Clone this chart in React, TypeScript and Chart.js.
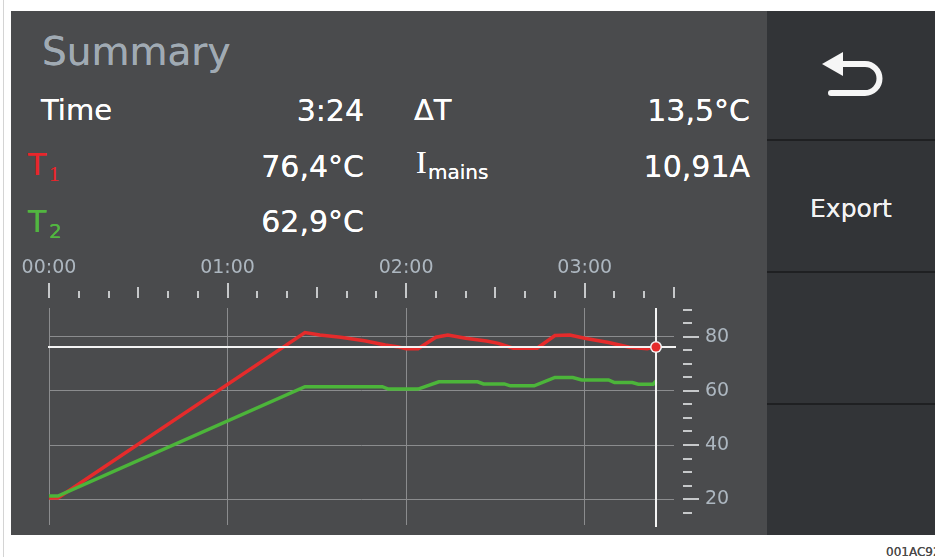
import React, { useEffect, useRef } from "react";
import { Chart, registerables } from "chart.js";

Chart.register(...registerables);

// ---- data ----
const T1_TIMES = [0, 3, 86, 91, 98, 106, 113, 117, 120, 124, 130, 134, 140, 147, 151, 156, 164, 170, 175, 180, 188, 195, 201, 204];
const T1_VALUES = [20.4, 20.4, 81.6, 80.7, 79.9, 78.6, 77.0, 76.4, 75.6, 75.6, 79.9, 80.7, 79.5, 78.5, 77.6, 75.8, 75.8, 80.5, 80.7, 79.5, 77.9, 76.2, 75.6, 76.4];
const T2_TIMES = [0, 3, 86, 112, 114, 124, 131, 144, 146, 153, 155, 163, 170, 176, 179, 188, 190, 196, 198, 203, 204];
const T2_VALUES = [21.1, 21.1, 61.6, 61.6, 60.7, 60.7, 63.4, 63.4, 62.6, 62.6, 61.9, 61.9, 65.0, 65.0, 64.1, 64.1, 63.1, 63.1, 62.5, 62.5, 63.7];

const CURRENT_TIME = 204;
const CURRENT_T1 = 76.4;

const X_MIN = 0;
const X_MAX = 210;
const Y_MIN = 10.4;
const Y_MAX = 90.7;

const X_LABEL_TICKS = [0, 60, 120, 180];
const X_LABELS = ["00:00", "01:00", "02:00", "03:00"];
const X_MARK_TICKS = [0, 10, 20, 30, 40, 50, 60, 70, 80, 90, 100, 110, 120, 130, 140, 150, 160, 170, 180, 190, 200, 210];
const Y_LABEL_TICKS = [20, 40, 60, 80];
const Y_MARK_TICKS = [15, 20, 25, 30, 35, 40, 45, 50, 55, 60, 65, 70, 75, 80, 85, 90];

const FONT = "'DejaVu Sans', Verdana, sans-serif";
const SERIF = "'Liberation Serif', 'DejaVu Serif', serif";

const toPoints = (xs: number[], ys: number[]) => xs.map((x, i) => ({ x, y: ys[i] }));

const overlayPlugin = {
  id: "overlay",
  afterDatasetsDraw(chart: any) {
    const { ctx, chartArea, scales } = chart;
    const x = scales.x;
    const y = scales.y;
    ctx.save();
    // tick marks on the time axis
    ctx.strokeStyle = "#c6c8ca";
    ctx.lineWidth = 2;
    X_MARK_TICKS.forEach((v) => {
      const px = Math.round(x.getPixelForValue(v));
      const len = v % 60 === 0 ? 15 : v % 30 === 0 ? 11 : 7;
      const bottom = chartArea.top - 10;
      ctx.beginPath();
      ctx.moveTo(px, bottom - len);
      ctx.lineTo(px, bottom);
      ctx.stroke();
    });
    // tick marks on the temperature axis
    Y_MARK_TICKS.forEach((v) => {
      const py = Math.round(y.getPixelForValue(v));
      const left = chartArea.right + 9;
      const len = v % 20 === 0 ? 16 : 9;
      ctx.beginPath();
      ctx.moveTo(left, py);
      ctx.lineTo(left + len, py);
      ctx.stroke();
    });
    // cursor lines
    const cx = Math.round(x.getPixelForValue(CURRENT_TIME));
    const cy = Math.round(y.getPixelForValue(CURRENT_T1));
    ctx.strokeStyle = "#f4f4f4";
    ctx.lineWidth = 2;
    ctx.beginPath();
    ctx.moveTo(chartArea.left - 1, cy);
    ctx.lineTo(chartArea.right + 2, cy);
    ctx.stroke();
    ctx.beginPath();
    ctx.moveTo(cx, chartArea.top);
    ctx.lineTo(cx, chartArea.bottom + 2);
    ctx.stroke();
    // current point marker
    ctx.beginPath();
    ctx.arc(cx, cy, 6, 0, Math.PI * 2);
    ctx.fillStyle = "#f4f4f4";
    ctx.fill();
    ctx.beginPath();
    ctx.arc(cx, cy, 4.5, 0, Math.PI * 2);
    ctx.fillStyle = "#e52b2b";
    ctx.fill();
    ctx.restore();
  },
};

function TempChart() {
  const ref = useRef<HTMLCanvasElement | null>(null);
  useEffect(() => {
    if (!ref.current) return;
    const chart = new Chart(ref.current, {
      type: "line",
      data: {
        datasets: [
          {
            label: "T2",
            data: toPoints(T2_TIMES, T2_VALUES),
            borderColor: "#4cb53a",
            borderWidth: 3.5,
            pointRadius: 0,
            tension: 0,
          },
          {
            label: "T1",
            data: toPoints(T1_TIMES, T1_VALUES),
            borderColor: "#e52b2b",
            borderWidth: 3.5,
            pointRadius: 0,
            tension: 0,
          },
        ],
      },
      options: {
        animation: false,
        responsive: false,
        maintainAspectRatio: false,
        events: [],
        layout: { padding: { left: 38, right: 0, top: 0, bottom: 10 } },
        plugins: { legend: { display: false }, tooltip: { enabled: false } },
        scales: {
          x: {
            type: "linear",
            position: "top",
            min: X_MIN,
            max: X_MAX,
            afterBuildTicks: (s: any) => {
              s.ticks = X_LABEL_TICKS.map((v) => ({ value: v }));
            },
            afterFit: (s: any) => {
              s.height = 53;
              s.paddingLeft = 0;
              s.paddingRight = 0;
              s.paddingTop = 0;
              s.paddingBottom = 0;
            },
            grid: { color: "#8b8c8e", lineWidth: 1, drawTicks: false },
            border: { display: false },
            ticks: {
              autoSkip: false,
              maxRotation: 0,
              padding: 29,
              color: "#adb7c0",
              font: { family: FONT, size: 19 },
              callback: (_v: any, i: number) => X_LABELS[i],
            },
          },
          y: {
            type: "linear",
            position: "right",
            min: Y_MIN,
            max: Y_MAX,
            afterBuildTicks: (s: any) => {
              s.ticks = Y_LABEL_TICKS.map((v) => ({ value: v }));
            },
            afterFit: (s: any) => {
              s.width = 93;
              s.paddingLeft = 0;
              s.paddingRight = 0;
              s.paddingTop = 0;
              s.paddingBottom = 0;
            },
            grid: { color: "#8b8c8e", lineWidth: 1, drawTicks: false },
            border: { display: false },
            ticks: {
              autoSkip: false,
              padding: 31,
              color: "#adb7c0",
              font: { family: FONT, size: 19 },
              callback: (v: any) => String(v),
            },
          },
        },
      },
      plugins: [overlayPlugin],
    } as any);
    return () => chart.destroy();
  }, []);
  return (
    <canvas
      ref={ref}
      width={756}
      height={280}
      style={{ position: "absolute", left: 11, top: 255, width: 756, height: 280 }}
    />
  );
}

// place text by baseline (DejaVu Sans: baseline at 0.846em with line-height 1)
function Txt(props: {
  x?: number;
  right?: number;
  baseline: number;
  size: number;
  color: string;
  family?: string;
  ratio?: number;
  children: React.ReactNode;
}) {
  const ratio = props.ratio ?? 0.846;
  const style: React.CSSProperties = {
    position: "absolute",
    top: props.baseline - ratio * props.size,
    fontSize: props.size,
    lineHeight: `${props.size}px`,
    fontFamily: props.family ?? FONT,
    color: props.color,
    whiteSpace: "nowrap",
    textShadow: `0 0 0.6px ${props.color}`,
  };
  if (props.right !== undefined) style.right = 935 - props.right;
  else style.left = props.x;
  return <div style={style}>{props.children}</div>;
}

export default function App() {
  const sep = (top: number) => (
    <div style={{ position: "absolute", left: 767, top, width: 168, height: 2, background: "#1f2022" }} />
  );
  return (
    <div
      style={{
        position: "absolute",
        left: 0,
        top: 0,
        width: 935,
        height: 557,
        background: "#ffffff",
        overflow: "hidden",
        fontFamily: FONT,
      }}
    >
      <div style={{ position: "absolute", left: 3, top: 0, width: 1, height: 557, background: "#d4d4d4" }} />
      <div style={{ position: "absolute", left: 11, top: 11, width: 756, height: 524, background: "#4a4b4d" }} />
      <div style={{ position: "absolute", left: 767, top: 11, width: 168, height: 524, background: "#323437" }} />
      {sep(139)}
      {sep(271)}
      {sep(403)}

      <Txt x={42} baseline={65} size={39} color="#a0aab3">Summary</Txt>

      <Txt x={41} baseline={121} size={29} color="#ffffff">Time</Txt>
      <Txt right={364} baseline={121} size={30} color="#ffffff">3:24</Txt>
      <Txt x={414} baseline={121} size={29} color="#ffffff">ΔT</Txt>
      <Txt right={750} baseline={121} size={30} color="#ffffff">13,5°C</Txt>

      <Txt x={28} baseline={175} size={30} color="#e8262b">T</Txt>
      <Txt x={49} baseline={182} size={21} color="#e8262b" family={SERIF} ratio={0.8375}>1</Txt>
      <Txt right={364} baseline={177} size={30} color="#ffffff">76,4°C</Txt>
      <Txt x={416} baseline={173} size={32} color="#ffffff" family={SERIF} ratio={0.8375}>I</Txt>
      <Txt x={428} baseline={179} size={20} color="#ffffff">mains</Txt>
      <Txt right={750} baseline={177} size={30} color="#ffffff">10,91A</Txt>

      <Txt x={28} baseline={232} size={30} color="#52b640">T</Txt>
      <Txt x={49} baseline={238} size={20} color="#52b640">2</Txt>
      <Txt right={364} baseline={232} size={30} color="#ffffff">62,9°C</Txt>

      <TempChart />

      <svg
        width={80}
        height={60}
        style={{ position: "absolute", left: 815, top: 45 }}
        viewBox="0 0 80 60"
      >
        <polygon points="7,19 28,7 28,31" fill="#f6f6f6" />
        <path
          d="M 26 19 H 50 A 14.5 14.5 0 0 1 50 48 H 16"
          fill="none"
          stroke="#f6f6f6"
          strokeWidth={6}
          strokeLinecap="round"
        />
      </svg>

      <div
        style={{
          position: "absolute",
          left: 767,
          width: 168,
          top: 217 - 0.846 * 25,
          fontSize: 25,
          lineHeight: "25px",
          textAlign: "center",
          color: "#f2f2f2",
          fontFamily: FONT,
          textShadow: "0 0 0.6px #f2f2f2",
        }}
      >
        Export
      </div>

      <Txt x={886} baseline={556} size={12} color="#4a4a4a">001AC920</Txt>
    </div>
  );
}
